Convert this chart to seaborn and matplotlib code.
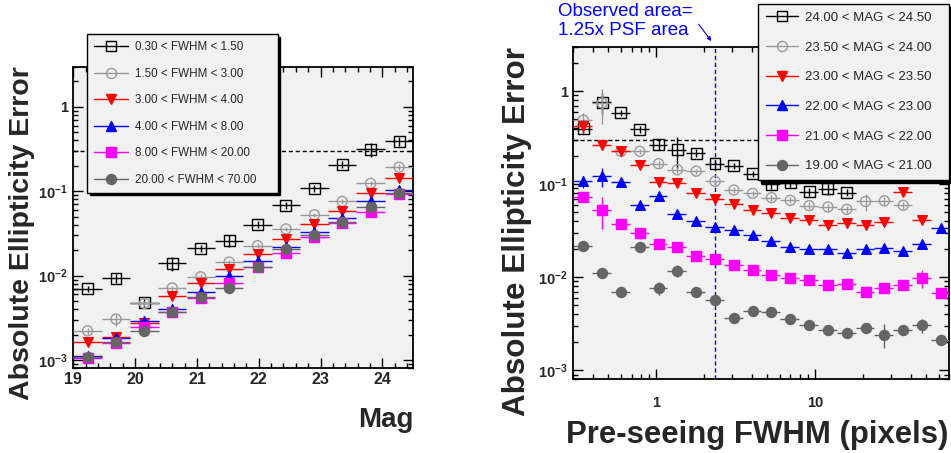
import numpy as np
import pandas as pd
import matplotlib
matplotlib.use("Agg")
import matplotlib.pyplot as plt
import seaborn as sns
from matplotlib.lines import Line2D
from matplotlib.ticker import LogLocator, NullFormatter, MultipleLocator, FixedLocator

# ---------------- data ----------------
# Left panel: magnitude bins (19 - 24.5, 12 bins)
mag_centers = [19.23, 19.69, 20.15, 20.60, 21.06, 21.52, 21.98, 22.44, 22.90, 23.35, 23.81, 24.27]
mag_halfwidth = 0.229

fwhm_labels = ["0.30 < FWHM < 1.50", "1.50 < FWHM < 3.00", "3.00 < FWHM < 4.00",
               "4.00 < FWHM < 8.00", "8.00 < FWHM < 20.00", "20.00 < FWHM < 70.00"]
left_vals = [
    [0.0070, 0.0093, 0.0048, 0.0140, 0.0212, 0.0260, 0.0404, 0.0684, 0.108, 0.207, 0.314, 0.391],
    [0.00222, 0.00306, 0.0047, 0.00715, 0.0097, 0.0145, 0.0227, 0.0358, 0.0527, 0.0758, 0.124, 0.193],
    [0.00163, 0.00189, 0.00272, 0.00570, 0.0082, 0.0120, 0.0180, 0.0274, 0.0413, 0.0590, 0.0960, 0.145],
    [0.00112, 0.00183, 0.0029, 0.00398, 0.00646, 0.0100, 0.0151, 0.0221, 0.0333, 0.0489, 0.077, 0.104],
    [0.00105, 0.0016, 0.00248, 0.00371, 0.0054, 0.0081, 0.0128, 0.0188, 0.0286, 0.0419, 0.0576, 0.0934],
    [0.00110, 0.00165, 0.00222, 0.0037, 0.00554, 0.0072, 0.0128, 0.0207, 0.0304, 0.0438, 0.066, 0.095],
]
left_errs = [
    [0.0006, 0.0012, 0.0005, 0.0025, 0.002, 0.004, 0.004, 0.006, 0.01, 0.02, 0.06, 0.05],
    [0.0002, 0.0005, 0.0003, 0.0005, 0.0007, 0.001, 0.0015, 0.002, 0.003, 0.005, 0.01, 0.015],
    [0.0001, 0.0002, 0.0002, 0.0003, 0.0005, 0.0007, 0.001, 0.0015, 0.002, 0.003, 0.005, 0.008],
    [0.0001, 0.0002, 0.0002, 0.0002, 0.0004, 0.0006, 0.0008, 0.0012, 0.0017, 0.0025, 0.004, 0.005],
    [0.0001, 0.0001, 0.0001, 0.0002, 0.0003, 0.0004, 0.0006, 0.0009, 0.0014, 0.002, 0.003, 0.005],
    [0.0001, 0.0001, 0.0001, 0.0002, 0.0003, 0.0004, 0.0006, 0.0009, 0.0014, 0.002, 0.003, 0.005],
]

# Right panel: pre-seeing FWHM bins (0.3 - 70, 20 log bins)
fwhm_edges = [0.300, 0.394, 0.518, 0.680, 0.894, 1.174, 1.542, 2.026, 2.661, 3.496, 4.593,
              6.033, 7.926, 10.41, 13.68, 17.97, 23.61, 31.01, 40.74, 53.52, 70.0]
nan = np.nan
mag_labels = ["24.00 < MAG < 24.50", "23.50 < MAG < 24.00", "23.00 < MAG < 23.50",
              "22.00 < MAG < 23.00", "21.00 < MAG < 22.00", "19.00 < MAG < 21.00"]
right_vals = [
    [0.392, 0.762, 0.586, 0.388, 0.265, 0.234, 0.216, 0.166, 0.157, 0.129, 0.0995, 0.103, 0.0825,
     0.0893, 0.081, nan, nan, nan, nan, nan],
    [0.488, 0.745, 0.225, 0.225, 0.166, 0.143, 0.138, 0.107, 0.0865, 0.0796, 0.0716, 0.067, 0.0588,
     0.0568, 0.0536, 0.0652, 0.0662, 0.0592, nan, nan],
    [0.424, 0.262, 0.225, 0.160, 0.106, 0.103, 0.0797, 0.0698, 0.0612, 0.0527, 0.0484, 0.0437, 0.0410,
     0.0365, 0.0378, 0.0365, 0.0394, 0.0822, 0.0415, nan],
    [0.107, 0.122, 0.105, 0.0590, 0.0750, 0.0474, 0.0405, 0.0350, 0.0325, 0.0284, 0.0246, 0.0211, 0.0201,
     0.0203, 0.0184, 0.0200, 0.0208, 0.0193, 0.0226, 0.0341],
    [0.0722, 0.0532, 0.0370, 0.0298, 0.0229, 0.0213, 0.0169, 0.0158, 0.0135, 0.0121, 0.0106, 0.0099,
     0.00927, 0.00821, 0.0084, 0.0070, 0.00765, 0.00818, 0.0099, 0.00683],
    [0.0216, 0.0112, 0.00699, 0.0211, 0.00772, 0.0117, 0.00699, 0.00565, 0.00368, 0.00434, 0.00423,
     0.00353, 0.0031, 0.00272, 0.00254, 0.00284, 0.00242, 0.00272, 0.00304, 0.00209],
]
right_errs = [
    [0.04, 0.2, 0.04, 0.03, 0.03, 0.085, 0.02, 0.015, 0.012, 0.01, 0.01, 0.01, 0.008,
     0.012, 0.007, nan, nan, nan, nan, nan],
    [0.1, 0.3, 0.02, 0.015, 0.012, 0.01, 0.008, 0.008, 0.006, 0.005, 0.005, 0.005, 0.005,
     0.005, 0.005, 0.014, 0.006, 0.005, nan, nan],
    [0.07, 0.025, 0.015, 0.01, 0.008, 0.006, 0.005, 0.004, 0.003, 0.003, 0.003, 0.002, 0.002,
     0.002, 0.002, 0.002, 0.002, 0.005, 0.003, nan],
    [0.015, 0.028, 0.008, 0.006, 0.005, 0.003, 0.002, 0.002, 0.0015, 0.0012, 0.0012, 0.001, 0.001,
     0.001, 0.001, 0.001, 0.001, 0.001, 0.0015, 0.002],
    [0.008, 0.02, 0.004, 0.004, 0.0015, 0.0012, 0.001, 0.0008, 0.0007, 0.0006, 0.0005, 0.0005,
     0.0005, 0.0005, 0.0005, 0.0004, 0.0004, 0.0005, 0.0022, 0.0004],
    [0.0012, 0.0008, 0.0004, 0.0012, 0.0012, 0.0017, 0.0006, 0.0004, 0.0003, 0.0003, 0.0003,
     0.0002, 0.0002, 0.0002, 0.0002, 0.0003, 0.0007, 0.0002, 0.0005, 0.0002],
]

cut_level = 0.3          # horizontal dashed line
observed_fwhm = 2.34     # vertical blue dashed line

# ---------------- styles ----------------
styles = [
    dict(marker="s", color="black", hollow=True, s=62),
    dict(marker="o", color="#9a9a9a", hollow=True, s=52),
    dict(marker="v", color="#ff0000", hollow=False, s=48),
    dict(marker="^", color="#0000ff", hollow=False, s=48),
    dict(marker="s", color="#ff00ff", hollow=False, s=62),
    dict(marker="o", color="#656565", hollow=False, s=52),
]
BG = "#f1f1f1"

sns.set_style("ticks")
plt.rcParams["font.family"] = ["Liberation Sans", "DejaVu Sans"]
plt.rcParams["mathtext.fontset"] = "custom"
plt.rcParams["mathtext.rm"] = "Liberation Sans:bold"
plt.rcParams["mathtext.it"] = "Liberation Sans:bold"
plt.rcParams["mathtext.bf"] = "Liberation Sans:bold"

fig = plt.figure(figsize=(9.51, 4.53), dpi=100)
fig.patch.set_facecolor("white")
axL = fig.add_axes([0.0771, 0.187, 0.3575, 0.666])
axR = fig.add_axes([0.6028, 0.1627, 0.3954, 0.7342])


def draw_series(ax, x, xlo, xhi, y, yerr, st, z):
    df = pd.DataFrame({"x": x, "y": y}).dropna()
    m = ~np.isnan(np.asarray(y, dtype=float))
    ax.errorbar(np.asarray(x)[m], np.asarray(y)[m],
                xerr=[np.asarray(xlo)[m], np.asarray(xhi)[m]],
                yerr=np.asarray(yerr)[m], fmt="none", ecolor=st["color"],
                elinewidth=1.0, capsize=0, zorder=z)
    sns.scatterplot(data=df, x="x", y="y", ax=ax, marker=st["marker"], s=st["s"],
                    color=st["color"], linewidth=1.0, legend=False, zorder=z + 0.5)
    coll = ax.collections[-1]
    if st["hollow"]:
        coll.set_facecolor("none")
        coll.set_edgecolor(st["color"])
    else:
        coll.set_edgecolor(st["color"])


def handles_for():
    hs = []
    for st in styles:
        hs.append(Line2D([], [], color=st["color"], lw=1.0, marker=st["marker"],
                         markersize=np.sqrt(st["s"]),
                         markerfacecolor="none" if st["hollow"] else st["color"],
                         markeredgecolor=st["color"]))
    return hs


def style_axes(ax):
    ax.set_facecolor(BG)
    for sp in ax.spines.values():
        sp.set_visible(True)
        sp.set_color("black")
        sp.set_linewidth(1.3)
    ax.tick_params(which="both", direction="in", top=True, right=True, color="black")
    ax.tick_params(which="major", length=7, width=1.0)
    ax.tick_params(which="minor", length=3.5, width=1.0)
    ax.set_xlabel("")
    ax.set_ylabel("")
    ax.set_yscale("log")
    ax.set_ylim(8e-4, 3)
    ax.yaxis.set_major_locator(FixedLocator([1e-3, 1e-2, 1e-1, 1]))
    ax.yaxis.set_minor_locator(LogLocator(base=10, subs=np.arange(2, 10)))
    ax.yaxis.set_minor_formatter(NullFormatter())
    ax.set_yticks([1e-3, 1e-2, 1e-1, 1],
                  labels=[r"$10^{-3}$", r"$10^{-2}$", r"$10^{-1}$", "1"],
                  fontsize=10.5, fontweight="bold")
    ax.tick_params(axis="y", which="major", pad=4)


# ---------- left panel ----------
for i, (vals, errs) in enumerate(zip(left_vals, left_errs)):
    draw_series(axL, mag_centers, [mag_halfwidth] * 12, [mag_halfwidth] * 12,
                vals, errs, styles[i], 3 + i)
style_axes(axL)
axL.set_xlim(19, 24.5)
axL.set_xticks([19, 20, 21, 22, 23, 24], labels=["19", "20", "21", "22", "23", "24"],
               fontsize=11.5, fontweight="bold")
axL.xaxis.set_minor_locator(MultipleLocator(0.2))
axL.tick_params(axis="x", which="major", pad=3)
axL.axhline(cut_level, color="black", lw=1.0, ls=(0, (3, 2)), zorder=2)

legL = axL.legend(handles_for(), fwhm_labels, loc="upper left",
                  bbox_to_anchor=(87.3 / 951, 1 - 34.3 / 453 - 0.01, 190.4 / 951, 0.01),
                  bbox_transform=fig.transFigure, mode="expand",
                  fontsize=8.4, labelspacing=1.24, handlelength=2.85, handletextpad=0.65,
                  borderpad=0.6, borderaxespad=0, frameon=True, fancybox=False,
                  shadow={"color": "black", "alpha": 1.0}, facecolor=BG, edgecolor="black",
                  framealpha=1.0)
legL.get_frame().set_linewidth(1.0)
legL.set_zorder(20)

# ---------- right panel ----------
edges = np.asarray(fwhm_edges)
centers = 0.5 * (edges[:-1] + edges[1:])
for i, (vals, errs) in enumerate(zip(right_vals, right_errs)):
    draw_series(axR, centers, centers - edges[:-1], edges[1:] - centers,
                vals, errs, styles[i], 3 + i)
style_axes(axR)
axR.set_xscale("log")
axR.set_xlim(0.3, 70)
axR.set_xticks([1, 10], labels=["1", "10"], fontsize=10.5, fontweight="bold")
axR.xaxis.set_minor_locator(LogLocator(base=10, subs=np.arange(2, 10)))
axR.xaxis.set_minor_formatter(NullFormatter())
axR.tick_params(axis="x", which="major", pad=12)
axR.axhline(cut_level, color="black", lw=1.0, ls=(0, (3, 2)), zorder=2)
axR.axvline(observed_fwhm, color="#0000ff", lw=1.0, ls=(0, (3, 2)), zorder=2)

legR = axR.legend(handles_for(), mag_labels, loc="upper left",
                  bbox_to_anchor=(758.3 / 951, 1 - 4 / 453 - 0.01, 191 / 951, 0.01),
                  bbox_transform=fig.transFigure, mode="expand",
                  fontsize=9.5, labelspacing=1.32, handlelength=2.4, handletextpad=0.58,
                  borderpad=0.58, borderaxespad=0, frameon=True, fancybox=False,
                  shadow={"color": "black", "alpha": 1.0}, facecolor=BG, edgecolor="black",
                  framealpha=1.0)
legR.get_frame().set_linewidth(1.0)
legR.set_zorder(20)

# annotation
fig.text(558 / 951, 1 - 2.5 / 453, "Observed area=\n1.25x PSF area", color="#0000ff",
         fontsize=13.5, ha="left", va="top", linespacing=1.22)
axR.annotate("", xy=(713 / 951, 1 - 43.3 / 453), xycoords="figure fraction",
             xytext=(697 / 951, 1 - 22 / 453), textcoords="figure fraction",
             arrowprops=dict(arrowstyle="-|>", color="#0000ff", lw=0.8, mutation_scale=6))

# axis titles
fig.text(22.5 / 951, 1 - 66.7 / 453, "Absolute Ellipticity Error", rotation=90,
         ha="center", va="top", fontsize=20.5, fontweight="bold")
fig.text(517.5 / 951, 1 - 46.7 / 453, "Absolute Ellipticity Error", rotation=90,
         ha="center", va="top", fontsize=22.6, fontweight="bold")
fig.text(413.3 / 951, 1 - 426.7 / 453, "Mag", ha="right", va="baseline",
         fontsize=20, fontweight="bold")
fig.text(948 / 951, 1 - 443.3 / 453, "Pre-seeing FWHM (pixels)", ha="right", va="baseline",
         fontsize=22.4, fontweight="bold")

fig.savefig("out.png", dpi=100, facecolor="white")
